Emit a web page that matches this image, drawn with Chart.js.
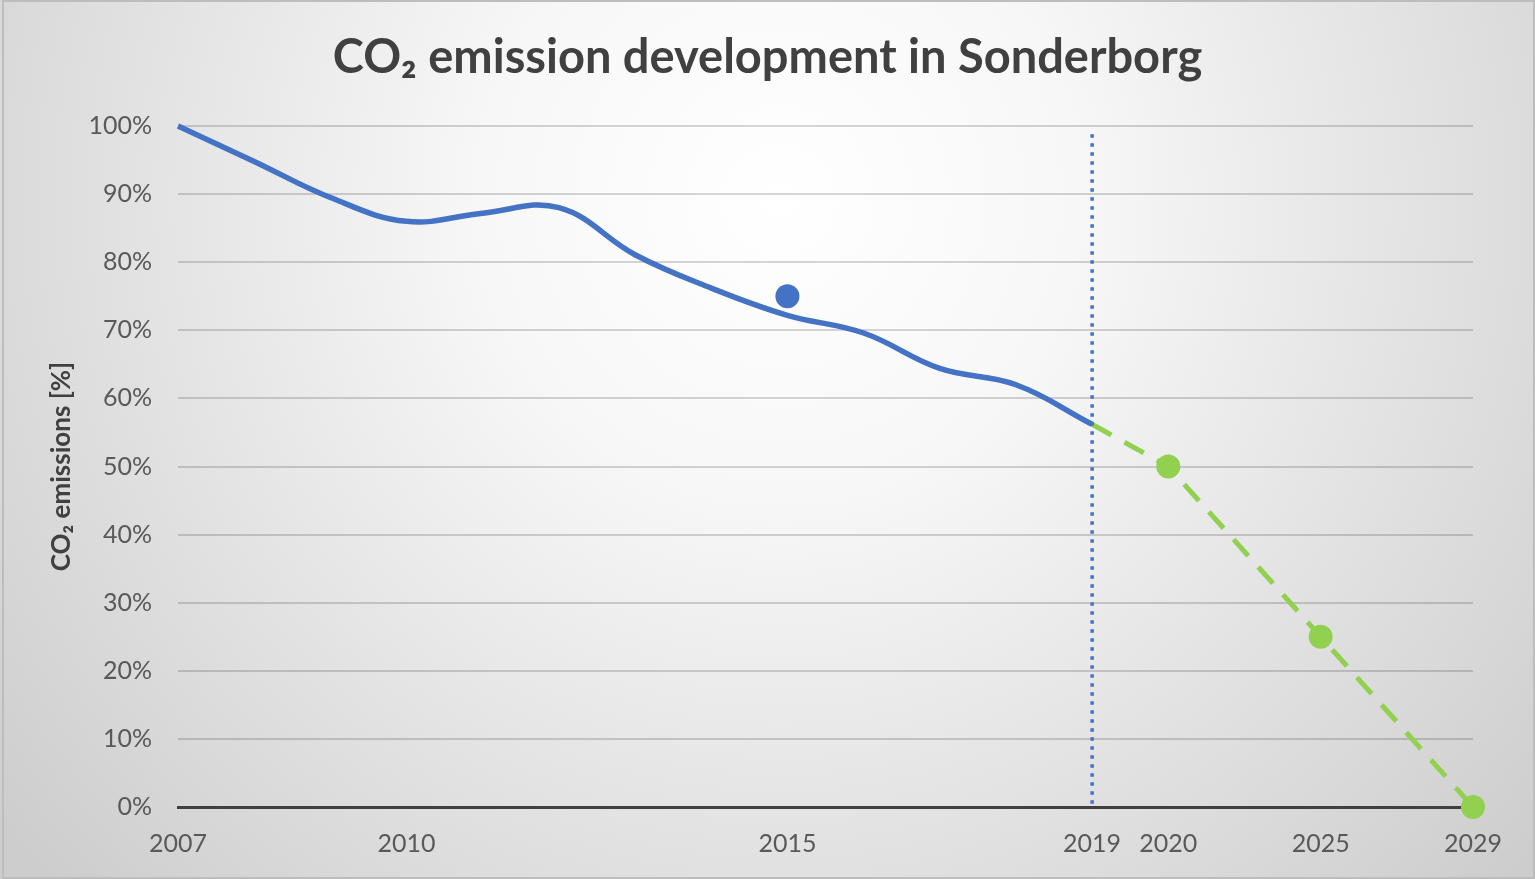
<!DOCTYPE html>
<html>
<head>
<meta charset="utf-8">
<script src="https://cdn.jsdelivr.net/npm/chart.js@4/dist/chart.umd.min.js"></script>
<style>
  html, body { margin: 0; padding: 0; background: #fff; }
  #contenedor { width: 1535px; height: 879px; }
</style>
</head>
<body>
<div id="contenedor"><canvas id="grafica"></canvas></div>
<script>
// Categorias del eje x (las vacias no llevan etiqueta en el original)
const CATEGORIAS = [
  "2007", "2008", "2009", "2010", "2011", "2012", "2013", "2014",
  "2015", "2016", "2017", "2018", "2019", "2020", "", "2025", "", "2029",
];
const ETIQUETAS_X = ["2007", "2010", "2015", "2019", "2020", "2025", "2029"];
const TICKS_Y = [0, 10, 20, 30, 40, 50, 60, 70, 80, 90, 100];

// Emisiones historicas [%]
const EMISIONES = [
  100, 94.8, 89.5, 86.0, 87.2, 88.0, 81.1, 76.2,
  72.2, 69.6, 64.4, 62.0, 56.2, null, null, null, null, null,
];
// Meta de reduccion
const META = [
  null, null, null, null, null, null, null, null,
  null, null, null, null, 56.2, 50, null, 25, null, 0,
];
// Punto suelto en 2015
const PUNTO_2015 = [
  null, null, null, null, null, null, null, null,
  75, null, null, null, null, null, null, null, null, null,
];
const AÑO_CORTE = "2019";
const TOPE_CORTE = 98.8;

const AZUL = "#4472C4";
const VERDE = "#92D050";

const fondo = {
  id: "fondo",
  beforeDraw(chart) {
    const { ctx, width, height } = chart;
    ctx.save();
    const g = ctx.createRadialGradient(780, 200, 0, 780, 200, 1000);
    g.addColorStop(0, "#ffffff");
    g.addColorStop(0.3, "#f7f7f7");
    g.addColorStop(1, "#cdcdcd");
    ctx.fillStyle = g;
    ctx.fillRect(0, 0, width, height);
    ctx.strokeStyle = "#bdbdbd";
    ctx.lineWidth = 2;
    ctx.strokeRect(3, 1, width - 4, height - 2);
    ctx.restore();
  },
};

// Linea punteada vertical en el ultimo año medido
const lineaCorte = {
  id: "lineaCorte",
  afterDatasetsDraw(chart) {
    const { ctx, scales } = chart;
    const x = scales.x.getPixelForValue(CATEGORIAS.indexOf(AÑO_CORTE));
    ctx.save();
    ctx.strokeStyle = AZUL;
    ctx.lineWidth = 3.5;
    ctx.setLineDash([3.5, 5.5]);
    ctx.beginPath();
    ctx.moveTo(x, scales.y.getPixelForValue(TOPE_CORTE));
    ctx.lineTo(x, scales.y.getPixelForValue(0));
    ctx.stroke();
    ctx.restore();
  },
};

new Chart(document.getElementById("grafica"), {
  type: "line",
  data: {
    labels: CATEGORIAS,
    datasets: [
      {
        label: "Emisiones",
        data: EMISIONES,
        borderColor: AZUL,
        borderWidth: 5.5,
        tension: 0.4,
        pointRadius: 0,
        clip: false,
      },
      {
        label: "Meta",
        data: META,
        borderColor: VERDE,
        backgroundColor: VERDE,
        borderWidth: 5,
        borderDash: [22, 15],
        spanGaps: true,
        tension: 0,
        pointRadius: META.map((v, i) => (i === CATEGORIAS.indexOf(AÑO_CORTE) ? 0 : 12)),
        pointBorderWidth: 0,
        clip: false,
      },
      {
        label: "2015",
        data: PUNTO_2015,
        showLine: false,
        backgroundColor: AZUL,
        pointRadius: 12,
        pointBorderWidth: 0,
        clip: false,
      },
    ],
  },
  options: {
    responsive: true,
    maintainAspectRatio: false,
    animation: false,
    layout: { padding: 0 },
    plugins: {
      legend: { display: false },
      tooltip: { enabled: false },
      title: {
        display: true,
        text: "CO₂ emission development in Sonderborg",
        color: "#404040",
        font: { family: "Lato", size: 47, weight: "bold", lineHeight: 1.2 },
        padding: { top: 30, bottom: 39.6 },
      },
    },
    scales: {
      x: {
        grid: { display: false, drawTicks: false },
        border: { color: "#404040", width: 3 },
        afterFit: (s) => {
          s.height = 72;
          s.paddingRight = 62;
        },
        ticks: {
          autoSkip: false,
          maxRotation: 0,
          padding: 22,
          color: "#595959",
          font: { family: "Lato", size: 25 },
          callback: (v) => (ETIQUETAS_X.includes(CATEGORIAS[v]) ? CATEGORIAS[v] : ""),
        },
      },
      y: {
        min: 0,
        max: 100,
        afterBuildTicks: (s) => { s.ticks = TICKS_Y.map((v) => ({ value: v })); },
        afterFit: (s) => { s.width = 178; },
        grid: {
          drawTicks: false,
          lineWidth: 2,
          color: (c) => (c.tick && c.tick.value === 0 ? "rgba(0,0,0,0)" : "rgba(0,0,0,0.16)"),
        },
        border: { display: false },
        ticks: {
          padding: 26,
          color: "#595959",
          font: { family: "Lato", size: 25 },
          callback: (v) => v + "%",
        },
        title: {
          display: true,
          text: "CO₂ emissions [%]",
          color: "#404040",
          font: { family: "Lato", size: 26, weight: "bold", lineHeight: 1.2 },
          padding: { top: 46, bottom: 0 },
        },
      },
    },
  },
  plugins: [fondo, lineaCorte],
});
</script>
</body>
</html>
